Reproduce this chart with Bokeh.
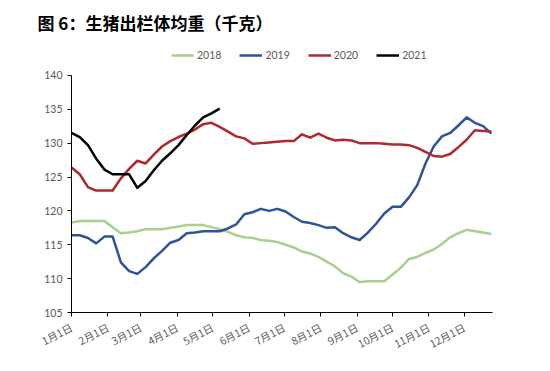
from bokeh.plotting import figure
from bokeh.models import Range1d, FixedTicker, Legend, LegendItem
from bokeh.embed import file_html
from bokeh.resources import INLINE

# ---------------- data ----------------
years = ["2018", "2019", "2020", "2021"]
colors = ["#A9D08E", "#2F529A", "#B0272D", "#000000"]

month_start_days = [0, 31, 59, 90, 120, 151, 181, 212, 243, 273, 304, 334]
month_labels = ["1月1日", "2月1日", "3月1日", "4月1日", "5月1日", "6月1日",
                "7月1日", "8月1日", "9月1日", "10月1日", "11月1日", "12月1日"]
y_ticks = [105, 110, 115, 120, 125, 130, 135, 140]

w2018 = [118.3, 118.5, 118.5, 118.5, 118.5, 117.6, 116.7, 116.8, 117.0, 117.3,
         117.3, 117.3, 117.5, 117.7, 117.9, 117.9, 117.9, 117.6, 117.3, 116.9,
         116.4, 116.1, 116.0, 115.7, 115.6, 115.4, 115.0, 114.6, 114.0, 113.7,
         113.2, 112.5, 111.8, 110.8, 110.3, 109.5, 109.6, 109.6, 109.6, 110.6,
         111.6, 112.9, 113.2, 113.8, 114.3, 115.1, 116.1, 116.7, 117.2, 117.0,
         116.8, 116.6]
w2019 = [116.4, 116.4, 116.0, 115.2, 116.2, 116.2, 112.4, 111.1, 110.7, 111.7,
         113.0, 114.1, 115.3, 115.7, 116.7, 116.8, 117.0, 117.0, 117.0, 117.4,
         118.0, 119.5, 119.8, 120.3, 120.0, 120.3, 119.9, 119.1, 118.4, 118.2,
         117.9, 117.5, 117.6, 116.7, 116.1, 115.7, 116.8, 118.1, 119.6, 120.6,
         120.6, 122.0, 123.8, 127.0, 129.5, 131.0, 131.5, 132.6, 133.8, 133.0,
         132.5, 131.4]
w2020 = [126.4, 125.4, 123.5, 123.0, 123.0, 123.0, 124.8, 126.2, 127.4, 127.0,
         128.3, 129.5, 130.3, 130.9, 131.4, 132.0, 132.8, 133.0, 132.4, 131.7,
         131.0, 130.7, 129.9, 130.0, 130.1, 130.2, 130.3, 130.3, 131.3, 130.8,
         131.4, 130.8, 130.4, 130.5, 130.4, 130.0, 130.0, 130.0, 129.9, 129.8,
         129.8, 129.7, 129.3, 128.7, 128.1, 128.0, 128.4, 129.4, 130.5, 131.9,
         131.8, 131.7]
w2021 = [131.5, 130.9, 129.7, 127.7, 126.1, 125.4, 125.4, 125.4, 123.4, 124.4,
         126.0, 127.4, 128.5, 129.7, 131.2, 132.6, 133.8, 134.4, 135.1]
series = [w2018, w2019, w2020, w2021]

# ---------------- figure ----------------
# frame extends above 140 to hold the legend; the y axis itself stops at 140
p = figure(width=550, height=371, output_backend="svg", toolbar_location=None,
           x_range=Range1d(0, 358), y_range=Range1d(105, 145.0),
           min_border_left=71, min_border_right=58,
           min_border_top=40, min_border_bottom=59)
p.outline_line_color = None
p.xgrid.visible = False
p.ygrid.visible = False
p.background_fill_color = "white"

renderers = []
for vals, col in zip(series, colors):
    xs = [7 * i for i in range(len(vals))]
    r = p.line(xs, vals, line_color=col, line_width=2.5, line_join="round")
    renderers.append(r)

# axes
lab_col = "#595959"
p.xaxis.ticker = FixedTicker(ticks=month_start_days)
p.xaxis.major_label_overrides = {d: l for d, l in zip(month_start_days, month_labels)}
p.xaxis.major_label_orientation = 0.48
p.xaxis.major_label_text_font = "Noto Sans CJK SC"
p.xaxis.major_label_text_font_size = "10.5px"
p.xaxis.major_label_text_color = lab_col
p.xaxis.minor_tick_line_color = None
p.xaxis.major_tick_in = 0
p.xaxis.major_tick_out = 4
p.xaxis.major_label_standoff = 10
p.xaxis.axis_line_color = "black"
p.xaxis.major_tick_line_color = "black"

p.yaxis.ticker = FixedTicker(ticks=y_ticks)
p.yaxis.bounds = (y_ticks[0], y_ticks[-1])
p.yaxis.major_label_text_font = "Lato"
p.yaxis.major_label_text_font_size = "10.5px"
p.yaxis.major_label_text_color = lab_col
p.yaxis.minor_tick_line_color = None
p.yaxis.major_tick_in = 0
p.yaxis.major_tick_out = 4
p.yaxis.major_label_standoff = 5
p.yaxis.axis_line_color = "black"
p.yaxis.major_tick_line_color = "black"

# legend inside the (extended) frame, above the data area
items = [LegendItem(label=y, renderers=[r]) for y, r in zip(years, renderers)]
legend = Legend(items=items, orientation="horizontal", location=(100, 247),
                glyph_width=23, glyph_height=10, label_standoff=3, spacing=18,
                padding=0, margin=0, border_line_color=None,
                background_fill_alpha=0,
                label_text_font="Lato", label_text_font_size="10.5px",
                label_text_color=lab_col, label_height=20)
p.add_layout(legend)

# title
p.title.text = "图 6：生猪出栏体均重（千克）"
p.title.text_font = "Noto Sans CJK SC"
p.title.text_font_size = "17px"
p.title.text_font_style = "bold"
p.title.text_color = "black"
p.title.align = "left"
p.title.offset = -34
p.title.standoff = 14

open("out.html", "w").write(file_html(p, INLINE))
